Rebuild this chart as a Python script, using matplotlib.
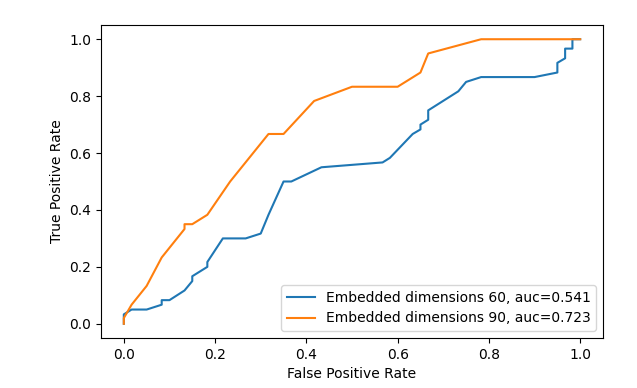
import matplotlib
matplotlib.use("Agg")
import matplotlib.pyplot as plt

fpr_60 = [0.0, 0.0, 0.017, 0.05, 0.083, 0.083, 0.1, 0.133, 0.15, 0.15, 0.183, 0.183,
          0.217, 0.267, 0.3, 0.317, 0.35, 0.367, 0.433, 0.567, 0.583, 0.633, 0.65, 0.65,
          0.667, 0.667, 0.733, 0.75, 0.783, 0.9, 0.95, 0.95, 0.967, 0.967, 0.983, 0.983, 1.0]
tpr_60 = [0.0, 0.033, 0.05, 0.05, 0.067, 0.083, 0.083, 0.117, 0.15, 0.167, 0.2, 0.217,
          0.3, 0.3, 0.317, 0.383, 0.5, 0.5, 0.55, 0.567, 0.583, 0.667, 0.683, 0.7,
          0.717, 0.75, 0.817, 0.85, 0.867, 0.867, 0.883, 0.917, 0.933, 0.967, 0.967, 1.0, 1.0]

fpr_90 = [0.0, 0.0, 0.017, 0.05, 0.083, 0.133, 0.133, 0.15, 0.183, 0.233, 0.317, 0.35,
          0.417, 0.5, 0.6, 0.65, 0.667, 0.783, 1.0]
tpr_90 = [0.0, 0.02, 0.067, 0.133, 0.233, 0.333, 0.35, 0.35, 0.383, 0.5, 0.667, 0.667,
          0.783, 0.833, 0.833, 0.883, 0.95, 1.0, 1.0]

labels = ["Embedded dimensions 60, auc=0.541", "Embedded dimensions 90, auc=0.723"]

fig = plt.figure(figsize=(6.37, 3.88), dpi=100)
ax = fig.add_axes([101 / 637, 1 - 338 / 388, (603 - 101) / 637, (338 - 25) / 388])
ax.plot(fpr_60, tpr_60, color="#1f77b4", lw=1.5, label=labels[0])
ax.plot(fpr_90, tpr_90, color="#ff7f0e", lw=1.5, label=labels[1])
ax.set_xlabel("False Positive Rate")
ax.set_ylabel("True Positive Rate")
ax.legend(loc="lower right")
fig.savefig("out.png", dpi=100)
